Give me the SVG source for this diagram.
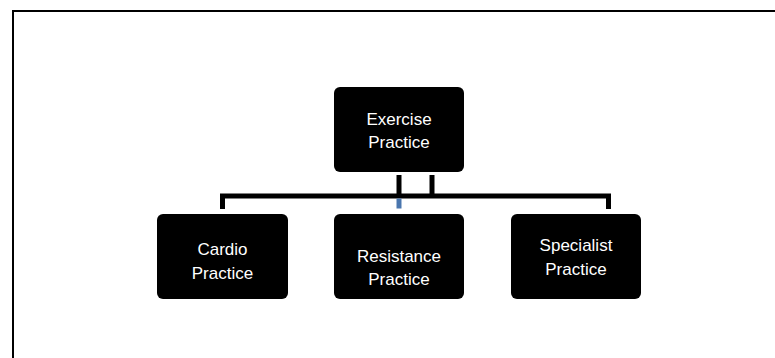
<svg xmlns="http://www.w3.org/2000/svg" width="775" height="358" viewBox="0 0 775 358">
<style>
.node rect{fill:#000;}
.node text{fill:#fff;font-family:"Liberation Sans",Arial,sans-serif;font-size:17px;text-anchor:middle;}
.conn{fill:none;stroke:#000;stroke-width:5;stroke-linejoin:miter;stroke-linecap:butt;}
</style>
<rect x="0" y="0" width="775" height="358" fill="#fff"/>
<rect x="13" y="11" width="800" height="400" fill="none" stroke="#000" stroke-width="2"/>
<g id="connectors">
<path class="conn" d="M222.5,209 V196 H608.5 V209"/>
<path class="conn" d="M399,175 V196"/>
<path class="conn" d="M432,175 V196"/>
<path d="M399,198.5 V208.5" fill="none" stroke="#4a76ae" stroke-width="5"/>
</g>
<g id="exercise" class="node">
<rect x="334" y="87" width="130" height="85" rx="6"/>
<text x="399" y="125">Exercise</text>
<text x="399" y="148">Practice</text>
</g>
<g id="cardio" class="node">
<rect x="157" y="214" width="131" height="85" rx="6"/>
<text x="222.5" y="255">Cardio</text>
<text x="222.5" y="279">Practice</text>
</g>
<g id="resistance" class="node">
<rect x="334" y="214" width="130" height="85" rx="6"/>
<text x="399" y="262">Resistance</text>
<text x="399" y="285">Practice</text>
</g>
<g id="specialist" class="node">
<rect x="511" y="214" width="130" height="85" rx="6"/>
<text x="576" y="251">Specialist</text>
<text x="576" y="275">Practice</text>
</g>
</svg>
